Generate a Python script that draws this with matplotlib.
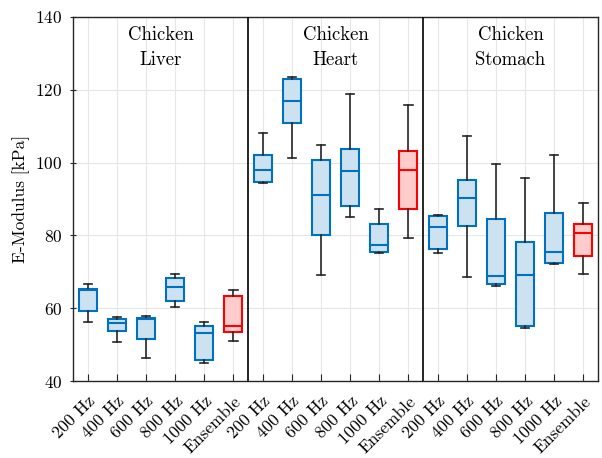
import numpy as np
import matplotlib
matplotlib.use("Agg")
import matplotlib.pyplot as plt
import matplotlib.transforms as mtransforms

plt.rcParams['font.family'] = ['cmr10', 'DejaVu Serif']
plt.rcParams['axes.formatter.use_mathtext'] = True

labels = ['200 Hz', '400 Hz', '600 Hz', '800 Hz', '1000 Hz', 'Ensemble'] * 3
groups = ['Chicken\nLiver', 'Chicken\nHeart', 'Chicken\nStomach']

# whisker low, q1, median, q3, whisker high (kPa)
whislo = [56.3, 50.7, 46.4, 60.4, 45.0, 51.1,
          94.4, 101.3, 69.0, 85.1, 75.1, 79.4,
          75.1, 68.6, 66.2, 54.5, 72.1, 69.4]
q1 = [59.3, 53.7, 51.6, 61.9, 45.8, 53.5,
      94.7, 110.9, 80.0, 88.2, 75.4, 87.2,
      76.3, 82.7, 66.6, 55.0, 72.3, 74.4]
med = [65.0, 55.8, 57.0, 65.7, 53.1, 55.2,
       97.9, 116.9, 91.0, 97.7, 77.3, 98.0,
       82.4, 90.4, 68.8, 69.0, 75.5, 80.6]
q3 = [65.4, 57.0, 57.2, 68.3, 55.2, 63.3,
      102.0, 123.1, 100.6, 103.7, 83.2, 103.2,
      85.2, 95.1, 84.4, 78.3, 86.1, 83.0]
whishi = [66.6, 57.7, 57.8, 69.4, 56.2, 65.1,
          108.1, 123.4, 104.9, 118.8, 87.3, 115.7,
          85.6, 107.3, 99.6, 95.7, 102.1, 89.0]

stats = []
for i in range(len(labels)):
    stats.append(dict(whislo=whislo[i], q1=q1[i], med=med[i], q3=q3[i],
                      whishi=whishi[i], fliers=[], label=labels[i]))

fig = plt.figure(figsize=(6.02, 4.58), dpi=100)
ax = fig.add_axes([0.1213, 0.1681, 0.8721, 0.7948])

pos = np.arange(1, len(labels) + 1)
bp = ax.bxp(stats, positions=pos, widths=0.62, capwidths=0.28,
            patch_artist=True, showfliers=False, zorder=3)

blue, lblue = '#0072BD', '#cce2f1'
red, lred = '#FF0000', '#ffcccc'
for i in range(len(labels)):
    ens = labels[i] == 'Ensemble'
    ec = red if ens else blue
    fc = lred if ens else lblue
    bp['boxes'][i].set(facecolor=fc, edgecolor=ec, linewidth=1.5)
    bp['medians'][i].set(color=ec, linewidth=1.5)
for ln in bp['whiskers'] + bp['caps']:
    ln.set(color='#262626', linewidth=1.2)

for xs in [6.5, 12.5]:
    ax.axvline(xs, color='black', linewidth=1.2, zorder=4)

for g, name in enumerate(groups):
    ax.text(3.5 + 6 * g, 137.6, name, ha='center', va='top', fontsize=13.5,
            linespacing=1.55)

ax.set_xlim(0.5, 18.5)
ax.set_ylim(40, 140)
ax.set_yticks(np.arange(40, 141, 20))
ax.set_xticks(pos)
ax.set_xticklabels(labels, rotation=45, ha='right', rotation_mode='anchor',
                   fontsize=12.5)
# nudge rotated labels a bit right, like the original
shift = mtransforms.ScaledTranslation(5 / 100, 0, fig.dpi_scale_trans)
for lab in ax.get_xticklabels():
    lab.set_transform(lab.get_transform() + shift)
ax.tick_params(axis='y', labelsize=12.5, pad=5, direction='inout', length=5)
ax.tick_params(axis='x', pad=9, direction='in', length=5)
ax.tick_params(color='#262626')
ax.set_ylabel('E-Modulus [kPa]', fontsize=12.5, labelpad=4)
ax.grid(True, color='#e6e6e6', linewidth=0.8, zorder=0)
ax.set_axisbelow(True)
for s in ax.spines.values():
    s.set_color('#262626')
    s.set_linewidth(1.0)

fig.savefig('out.png', dpi=100)
